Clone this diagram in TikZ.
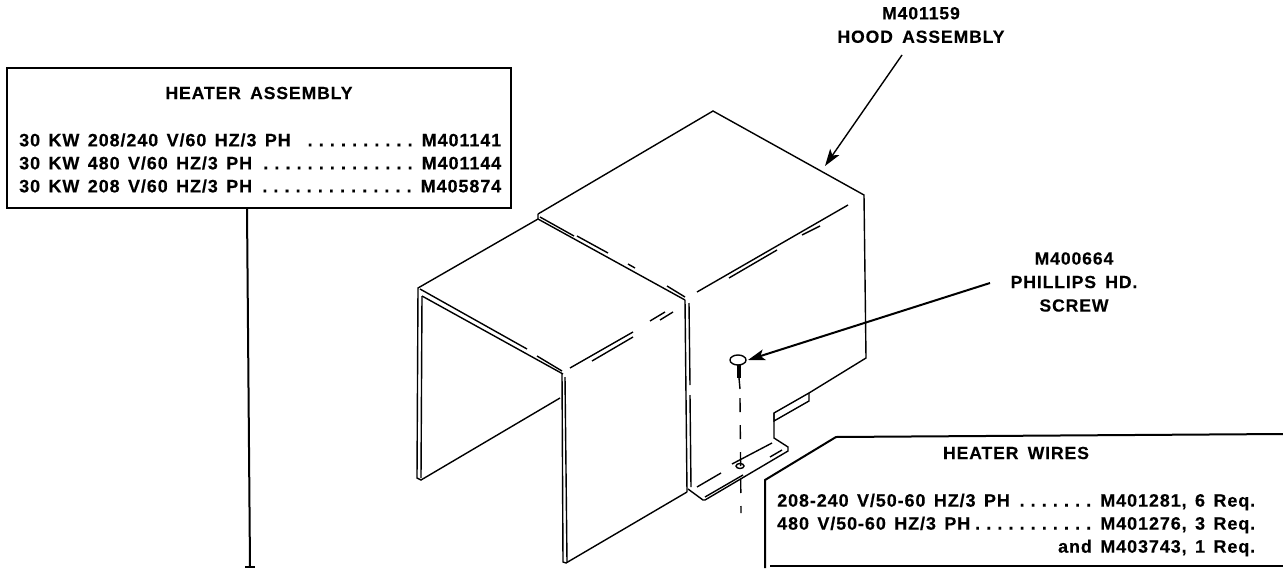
\documentclass[tikz,border=0pt]{standalone}
\usepackage{fontspec}
\setmainfont[LetterSpace=5,WordSpace=1.6,BoldFeatures={FakeBold=0.25}]{Liberation Sans}
\usetikzlibrary{arrows.meta}
\newcommand{\dotrun}[1]{\foreach \n in {1,...,#1}{.\kern6.1pt}\kern3pt}
\tikzset{
  outline/.style={line width=1.4pt},
  heavy/.style={line width=2pt},
  callout/.style={inner sep=0pt,font=\fontsize{17.6}{23.5}\selectfont\bfseries,align=center},
  listrow/.style={inner sep=0pt,anchor=west,font=\fontsize{18}{23}\selectfont\bfseries,execute at begin node={\spaceskip=8.4pt\relax}},
  leader/.style={-{Stealth[length=17pt,width=11pt,inset=4pt]}}
}
\begin{document}
\begin{tikzpicture}[x=1pt,y=-1pt]
       \useasboundingbox (0,0) rectangle (1283,568);
       % hood and duct
       \begin{scope}[outline]
         \draw (538,214) -- (713,111) -- (864,195) -- (866,358) -- (809,393) -- (774,413) -- (774,438) -- (788,447) -- (788,451) -- (705,500) -- (703,500) -- (688,489);
         \draw (538,214) -- (538,219) -- (685,300);
         \draw (540,217) -- (574,236);
         \draw (577,236) -- (608,253);
         \draw (628,264) -- (635,268);
         \draw (667,286) -- (685,297);
         \draw (685,300) -- (687,492);
         \draw (689,303) -- (690,385);
         \draw (690,395) -- (691,487);
         \draw (538,219) -- (418,288) -- (417,478) -- (421,480) -- (560,398);
         \draw (420,289) -- (527,349);
         \draw (537,356) -- (562,371);
         \draw (422,296) -- (563,374);
         \draw (422,296) -- (421,478);
         \draw (562,373) -- (563,562) -- (566,563) -- (687,492);
         \draw (565,377) -- (567,562);
         % fold lines
         \draw (570,368) -- (633,332);
         \draw (592,361) -- (633,337);
         \draw (650,321) -- (665,312);
         \draw (660,320) -- (673,312);
         \draw (697,292) -- (848,205);
         \draw (729,278) -- (777,250);
         \draw (802,235) -- (820,226);
         \draw (697,487) -- (721,473);
         \draw (732,464) -- (772,443);
         \draw (705,497) -- (743,475);
         \draw (770,457) -- (782,450);
         \draw (774,413) -- (774,421) -- (809,401) -- (809,393);
       \end{scope}
       % screw
       \draw[outline] (738,360) ellipse (8pt and 5pt);
       \draw[line width=3.5pt] (739,365) -- (739,378);
       \draw[outline] (739,378) -- (740,389);
       \draw[outline,dash pattern=on 14pt off 13pt] (740,398) -- (741,513);
       \draw[outline] (740,466) ellipse (4pt and 2.5pt);
       % callouts
       \node[callout] (hoodlabel) at (921,25) {M401159\\HOOD ASSEMBLY};
       \node[callout] (screwlabel) at (1074,282) {M400664\\PHILLIPS HD.\\SCREW};
       \coordinate (hoodtip) at (825,166);
       \coordinate (hoodtail) at (902,55);
       \coordinate (screwtip) at (748,360);
       \coordinate (screwtail) at (990,283);
       \draw[leader,line width=1.4pt] (hoodtail) -- (hoodtip);
       \draw[leader,line width=2pt] (screwtail) -- (screwtip);
       % heater assembly list
       \node[draw,heavy,minimum width=504pt,minimum height=140pt,inner sep=0pt] (assemblybox) at (259,138) {};
       \node[callout] (assemblytitle) at (259,93) {HEATER ASSEMBLY};
       \node[listrow,text width=482pt] (assemblya) at (19,140) {30 KW 208/240 V/60 HZ/3 PH\hfill\dotrun{10}M401141};
       \node[listrow,text width=482pt] (assemblyb) at (19,163) {30 KW 480 V/60 HZ/3 PH\hfill\dotrun{14}M401144};
       \node[listrow,text width=482pt] (assemblyc) at (19,186) {30 KW 208 V/60 HZ/3 PH\hfill\dotrun{14}M405874};
       \coordinate (assemblytop) at (247,208);
       \coordinate (assemblyend) at (250,567);
       \draw[heavy] (assemblybox.south -| assemblytop) -- (assemblyend);
       \draw[heavy] (245,567) -- (255,567);
       % heater wires list
       \draw[heavy] (765,568) -- (765,480) -- (836,437) -- (1283,434);
       \draw[heavy] (770,566) -- (1283,566);
       \node[callout] (wirestitle) at (1016,453) {HEATER WIRES};
       \node[listrow,text width=478pt] (wiresa) at (777,502) {208-240 V/50-60 HZ/3 PH\hfill\dotrun{7}M401281, 6 Req.};
       \node[listrow,text width=478pt] (wiresb) at (777,525) {480 V/50-60 HZ/3 PH\hfill\dotrun{11}M401276, 3 Req.};
       \node[listrow,text width=478pt,align=right] (wiresc) at (777,548) {and M403743, 1 Req.};
\end{tikzpicture}
\end{document}
